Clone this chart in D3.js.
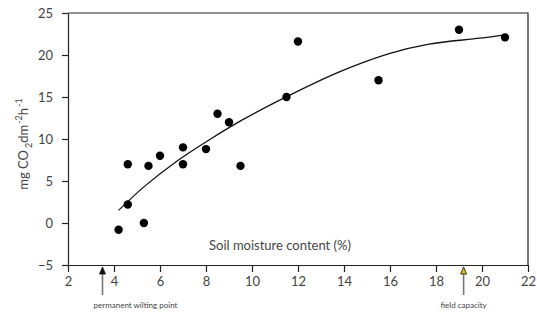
<!DOCTYPE html>
<html>
<head>
<meta charset="utf-8">
<script src="https://cdn.jsdelivr.net/npm/d3@7"></script>
<style>
  body { margin: 0; background: #fff; }
  text { font-family: Lato, "Open Sans", sans-serif; fill: #444; }
</style>
</head>
<body>
<script>
// measured points
var moisture = [4.2, 4.6, 4.6, 5.3, 5.5, 6, 7, 7, 8, 8.5, 9, 9.5, 11.5, 12, 15.5, 19, 21];
var respiration = [-0.8, 7, 2.2, 0, 6.8, 8, 9, 7, 8.8, 13, 12, 6.8, 15, 21.6, 17, 23, 22.1];

// fitted curve
var curveX = [4.2, 5.3, 6.7, 8.2, 9.6, 11.4, 13.8, 16, 17.7, 19.9, 21];
var curveY = [1.5, 4.3, 7.3, 10.0, 12.3, 14.9, 18.0, 20.2, 21.3, 22.0, 22.4];

var xTicks = [2, 4, 6, 8, 10, 12, 14, 16, 18, 20, 22];
var yTicks = [-5, 0, 5, 10, 15, 20, 25];

var wiltingPoint = 3.5;
var fieldCapacity = 19.2;

var width = 537, height = 312;
var margin = {top: 13, right: 9, bottom: 47, left: 68};

var svg = d3.select("body").append("svg")
  .attr("width", width)
  .attr("height", height);

var x = d3.scaleLinear().domain([2, 22]).range([margin.left, width - margin.right]);
var y = d3.scaleLinear().domain([-5, 25]).range([height - margin.bottom, margin.top]);

// frame (top + right)
svg.append("path")
  .attr("d", "M" + x(2) + "," + y(25) + "H" + x(22) + "V" + y(-5))
  .attr("fill", "none")
  .attr("stroke", "#222")
  .attr("stroke-width", 1.2);

var xAxis = svg.append("g")
  .attr("transform", "translate(0," + y(-5) + ")")
  .call(d3.axisBottom(x).tickValues(xTicks).tickSize(7).tickPadding(5).tickSizeOuter(0));

var yAxis = svg.append("g")
  .attr("transform", "translate(" + x(2) + ",0)")
  .call(d3.axisLeft(y).tickValues(yTicks).tickSize(6).tickPadding(9).tickSizeOuter(0));

[xAxis, yAxis].forEach(function (g) {
  g.select(".domain").attr("stroke", "#222").attr("stroke-width", 1.2);
  g.selectAll(".tick line").attr("stroke", "#222").attr("stroke-width", 1.2);
  g.selectAll(".tick text")
    .attr("font-family", "Lato, 'Open Sans', sans-serif")
    .attr("font-size", 13)
    .attr("fill", "#444");
});

// curve
var line = d3.line()
  .x(function (d) { return x(d[0]); })
  .y(function (d) { return y(d[1]); })
  .curve(d3.curveCatmullRom);

svg.append("path")
  .datum(d3.zip(curveX, curveY))
  .attr("d", line)
  .attr("fill", "none")
  .attr("stroke", "#111")
  .attr("stroke-width", 1.3);

// dots
svg.selectAll("circle.pt")
  .data(d3.zip(moisture, respiration))
  .enter().append("circle")
  .attr("class", "pt")
  .attr("cx", function (d) { return x(d[0]); })
  .attr("cy", function (d) { return y(d[1]); })
  .attr("r", 4.2)
  .attr("fill", "#000");

// x title, inside the plot
svg.append("text")
  .attr("x", 209)
  .attr("y", y(-3.2))
  .attr("font-size", 13)
  .text("Soil moisture content (%)");

// y title
var yt = svg.append("text")
  .attr("transform", "translate(28," + 144 + ") rotate(-90)")
  .attr("text-anchor", "middle")
  .attr("font-size", 13);
yt.append("tspan").text("mg CO");
yt.append("tspan").attr("font-size", 9).attr("dy", 4).attr("dx", 2).text("2");
yt.append("tspan").attr("dy", -4).text("dm");
yt.append("tspan").attr("font-size", 9).attr("dy", -6).attr("dx", 1).text("-2");
yt.append("tspan").attr("dy", 6).text("h");
yt.append("tspan").attr("font-size", 9).attr("dy", -6).attr("dx", 1).text("-1");

// arrows
var marks = [
  {v: wiltingPoint, label: "permanent wilting point", head: "#111"},
  {v: fieldCapacity, label: "field capacity", head: "#d8c020"}
];

var ann = svg.selectAll("g.ann")
  .data(marks)
  .enter().append("g")
  .attr("class", "ann")
  .attr("transform", function (d) { return "translate(" + x(d.v) + "," + y(-5) + ")"; });

ann.append("line")
  .attr("x1", 0).attr("x2", 0)
  .attr("y1", 4).attr("y2", 30)
  .attr("stroke", "#777")
  .attr("stroke-width", 1.6);

ann.append("path")
  .attr("d", "M0,2L-3,9L3,9Z")
  .attr("fill", function (d) { return d.head; })
  .attr("stroke", "#111")
  .attr("stroke-width", 0.8);

ann.append("text")
  .attr("y", 43)
  .attr("text-anchor", "middle")
  .attr("font-size", 8)
  .attr("fill", "#555")
  .attr("dx", function (d, i) { return i === 0 ? 33 : 0; })
  .text(function (d) { return d.label; });
</script>
</body>
</html>
